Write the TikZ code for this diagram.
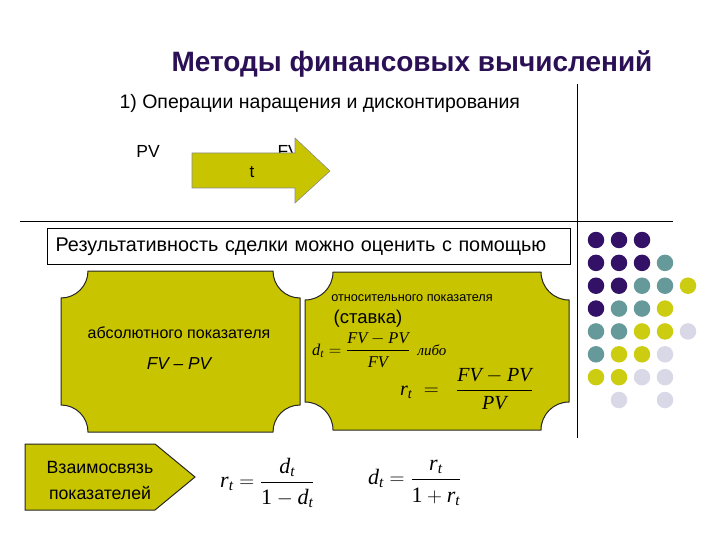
\documentclass[tikz,border=0pt]{standalone}
\usepackage{fontspec}
\usepackage{amsmath}
\setmainfont{Liberation Sans}
\newfontfamily\tms{Liberation Serif}
\usepackage{xcolor}
\definecolor{plqyellow}{HTML}{C8C400}
\definecolor{titlepurple}{HTML}{2B1055}
\definecolor{dP}{HTML}{331166}
\definecolor{dT}{HTML}{669999}
\definecolor{dY}{HTML}{CCCC11}
\definecolor{dL}{HTML}{D8D8E6}
\usetikzlibrary{positioning,calc}
\newcommand\fs[2]{\fontsize{#1}{#2}\selectfont}
\newcommand\mv[1]{\text{\tms\itshape #1}}
\newcommand\mup[1]{\text{\tms #1}}
\tikzset{
  plq/.style={fill=plqyellow, draw=black!85, line width=1pt},
  arw/.style={fill=plqyellow, draw=black!45, line width=0.6pt},
  lbl/.style={inner sep=0pt, font=\fs{16}{19}},
  frm/.style={inner sep=0pt, font=\fs{22}{26}\tms},
  dot/.style={circle, minimum size=16.5pt, inner sep=0pt, draw=none},
  rule/.style={draw=black, line width=0.9pt},
}
% plaque with concave corners: x1 y1 x2 y2 r
\newcommand\plaque[5]{%
  \draw[plq] (#1+#5,#2) -- (#3-#5,#2) arc[start angle=180,end angle=90,radius=#5]
    -- (#3,#4-#5) arc[start angle=270,end angle=180,radius=#5]
    -- (#1+#5,#4) arc[start angle=0,end angle=-90,radius=#5]
    -- (#1,#2+#5) arc[start angle=90,end angle=0,radius=#5] -- cycle;}

\begin{document}
\begin{tikzpicture}[x=1pt, y=-1pt]
  \useasboundingbox (0,0) rectangle (720,540);
  % rules
  \draw[rule] (20,221) -- (673,221);
  \draw[rule] (577,84) -- (577,438);
  % heading
  \node[font=\fs{28}{32}\bfseries, text=titlepurple] (title) at (412,64) {Методы финансовых вычислений};
  \node[anchor=west, font=\fs{19.5}{23}] (oper) at (116,103) {1) Операции наращения и дисконтирования};
  % growth arrow
  \node[font=\fs{17.5}{21}] (pv) at (148,151) {PV};
  \node[anchor=west, font=\fs{17.5}{21}] (fv) at (274,151) {FV};
  \draw[arw] (192,153) -- (295,153) -- (295,138) -- (330,171) -- (295,203) -- (295,188) -- (192,188) -- cycle;
  \node[font=\fs{17}{20}] (t) at (252,172) {t};
  % result box
  \node[draw, line width=1.2pt, anchor=north west, text width=507pt, minimum height=36pt,
        inner xsep=8pt, align=left, font=\fs{19.8}{23}] (result) at (47,228)
        {Результативность сделки можно оценить с помощью};
  % absolute
  \plaque{61}{271}{300}{432}{27}
  \node[lbl] (abs) at (179,333) {абсолютного показателя};
  \node[font=\fs{17.3}{20}\itshape, below=31pt of abs.center, anchor=center] (absf) {FV – PV};
  % relative
  \plaque{305}{272}{569}{430}{28}
  \node[lbl, font=\fs{12.7}{15}] (rel) at (412,298) {относительного показателя};
  \node[font=\fs{18.5}{22}] (rate) at (368,319) {(ставка)};
  \node[frm, font=\fs{16.4}{20}\tms, anchor=west] (dfrm) at (312,350)
        {$\mv{d}_{\mv{t}}=\dfrac{\mv{FV}-\mv{PV}}{\mv{FV}}$};
  \node[font=\fs{15}{18}\tms\itshape] (libo) at (432,350) {либо};
  \node[frm, font=\fs{20}{24}\tms, anchor=west] (rfrm) at (400,389)
        {$\mv{r}_{\mv{t}}\;=\;\;\dfrac{\mv{FV}-\mv{PV}}{\mv{PV}}$};
  % relation
  \draw[plq] (25,444) -- (155,444) -- (195,477) -- (155,510) -- (25,510) -- cycle;
  \node[font=\fs{17.7}{26}, align=center] (link) at (100,480) {Взаимосвязь\\показателей};
  \node[frm, anchor=west] (rd) at (220,483)
        {$\mv{r}_{\mv{t}}=\dfrac{\mv{d}_{\mv{t}}\rule[-4pt]{0pt}{4pt}}{\mup{1}-\mv{d}_{\mv{t}}\rule{0pt}{20pt}}$};
  \node[frm, anchor=west] (dr) at (368,483)
        {$\mv{d}_{\mv{t}}=\dfrac{\mv{r}_{\mv{t}}\rule[-4pt]{0pt}{4pt}}{\mup{1}+\mv{r}_{\mv{t}}\rule{0pt}{20pt}}$};
  % dots
  \foreach \cols [count=\r] in {{dP,dP,dP},{dP,dP,dP,dT},{dP,dP,dT,dT,dY},{dP,dT,dT,dY},
                                {dT,dT,dY,dY,dL},{dT,dY,dY,dL},{dY,dY,dL,dL}}
    \foreach \cl [count=\c] in \cols
      \node[dot, fill=\cl] (d\r\c) at ({596+23*(\c-1)}, {240+22.86*(\r-1)}) {};
  \node[dot, fill=dL] (d82) at (619,400) {};
  \node[dot, fill=dL] (d84) at (665,400) {};
\end{tikzpicture}
\end{document}
